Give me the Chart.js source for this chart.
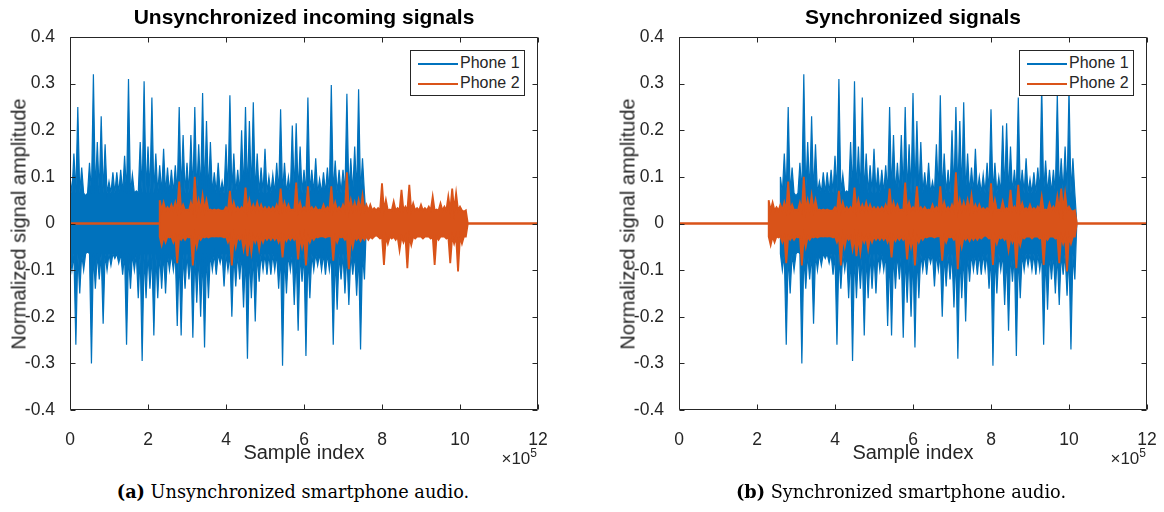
<!DOCTYPE html>
<html>
<head>
<meta charset="utf-8">
<script src="https://cdn.jsdelivr.net/npm/chart.js@4"></script>
<style>
  body { margin: 0; background: #fff; }
  #page { position: relative; width: 1164px; height: 512px; overflow: hidden; font-family: "Liberation Sans", Arial, sans-serif; color: #262626; }
  .panel { position: absolute; top: 0; width: 555px; height: 512px; }
  .panel canvas { position: absolute; left: 0; top: 0; }
  .title { position: absolute; left: 70px; width: 468px; top: 5px; text-align: center; font-weight: bold; font-size: 21px; color: #000; }
  .xlabel { position: absolute; left: 70px; width: 468px; top: 441px; text-align: center; font-size: 20px; }
  .ylabel { position: absolute; left: 19px; top: 224px; transform: translate(-50%, -50%) rotate(-90deg); white-space: nowrap; font-size: 20px; }
  .exp { position: absolute; right: 18px; top: 446px; font-size: 17px; }
  .exp sup { font-size: 12px; vertical-align: 7px; }
  .legend { position: absolute; left: 410px; top: 50px; width: 113px; height: 44px; background: #fff; border: 1px solid #262626; font-size: 16px; }
  .legend .row { position: absolute; left: 49px; height: 20px; line-height: 20px; }
  .legend .sw { position: absolute; left: 7px; width: 40px; height: 2px; }
  .caption { position: absolute; left: 0; width: 586px; top: 481px; text-align: center; font-family: "DejaVu Serif", serif; font-size: 17.7px; color: #000; }
</style>
</head>
<body>
<div id="page">
  <div class="panel" style="left:0px">
    <canvas id="rawChart" width="555" height="470"></canvas>
    <div class="title">Unsynchronized incoming signals</div>
    <div class="ylabel">Normalized signal amplitude</div>
    <div class="xlabel">Sample index</div>
    <div class="exp">×10<sup>5</sup></div>
    <div class="legend">
      <div class="sw" style="top:12px;background:#0072BD"></div><div class="row" style="top:2px">Phone 1</div>
      <div class="sw" style="top:32px;background:#D95319"></div><div class="row" style="top:22px">Phone 2</div>
    </div>
    <div class="caption"><b>(a)</b> Unsynchronized smartphone audio.</div>
  </div>
  <div class="panel" style="left:609px">
    <canvas id="syncChart" width="555" height="470"></canvas>
    <div class="title">Synchronized signals</div>
    <div class="ylabel">Normalized signal amplitude</div>
    <div class="xlabel">Sample index</div>
    <div class="exp">×10<sup>5</sup></div>
    <div class="legend">
      <div class="sw" style="top:12px;background:#0072BD"></div><div class="row" style="top:2px">Phone 1</div>
      <div class="sw" style="top:32px;background:#D95319"></div><div class="row" style="top:22px">Phone 2</div>
    </div>
    <div class="caption" style="left:-1px"><b>(b)</b> Synchronized smartphone audio.</div>
  </div>
</div>
<script>
// envelope of each recording, one bin every 0.1e5 samples:
// HI = positive peak at bin start, LO = negative peak half a bin later,
// CORE = level of the dense part between the peaks
const BIN = 0.1e5;
const X_MAX = 12e5;

const P1_START = 0;
const P1_LAG = 2.6e5;   // delay found by the sync step
const P1_CORE = 0.065;
const P1_HI = [
  0.10, 0.15, 0.25, 0.12, 0.06, 0.13, 0.32, 0.175, 0.23, 0.17,
  0.09, 0.11, 0.11, 0.115, 0.145, 0.31, 0.105, 0.07, 0.175, 0.305,
  0.165, 0.27, 0.15, 0.125, 0.16, 0.12, 0.115, 0.125, 0.25, 0.19,
  0.13, 0.19, 0.25, 0.17, 0.28, 0.22, 0.175, 0.11, 0.13, 0.09,
  0.17, 0.275, 0.15, 0.115, 0.20, 0.25, 0.22, 0.26, 0.15, 0.12,
  0.16, 0.10, 0.105, 0.13, 0.245, 0.13, 0.10, 0.21, 0.215, 0.165,
  0.115, 0.27, 0.115, 0.14, 0.095, 0.11, 0.12, 0.297, 0.135, 0.115,
  0.115, 0.278, 0.14, 0.165, 0.288, 0.14
];
const P1_LO = [
  -0.10, -0.26, -0.15, -0.10, -0.06, -0.30, -0.14, -0.12, -0.215, -0.10,
  -0.09, -0.075, -0.085, -0.11, -0.26, -0.14, -0.10, -0.16, -0.295, -0.16,
  -0.14, -0.24, -0.16, -0.14, -0.15, -0.10, -0.10, -0.22, -0.24, -0.14,
  -0.12, -0.245, -0.17, -0.20, -0.266, -0.16, -0.10, -0.11, -0.085, -0.135,
  -0.10, -0.20, -0.135, -0.12, -0.18, -0.29, -0.16, -0.21, -0.125, -0.10,
  -0.11, -0.11, -0.10, -0.14, -0.305, -0.15, -0.10, -0.175, -0.23, -0.125,
  -0.284, -0.16, -0.10, -0.09, -0.10, -0.11, -0.10, -0.26, -0.185, -0.12,
  -0.15, -0.175, -0.11, -0.155, -0.27, -0.12
];

const P2_START = 2.3e5;
const P2_CORE = 0.028;
const P2_HI = [
  0.05, 0.045, 0.035, 0.04, 0.045, 0.09, 0.04, 0.03, 0.045, 0.10,
  0.05, 0.06, 0.05, 0.03, 0.03, 0.03, 0.027, 0.035, 0.07, 0.045,
  0.035, 0.035, 0.077, 0.05, 0.04, 0.045, 0.04, 0.035, 0.035, 0.035,
  0.04, 0.075, 0.045, 0.04, 0.03, 0.088, 0.045, 0.035, 0.08, 0.035,
  0.035, 0.03, 0.04, 0.035, 0.08, 0.045, 0.035, 0.04, 0.11, 0.05,
  0.045, 0.05, 0.06, 0.04, 0.04, 0.033, 0.033, 0.086, 0.05, 0.03,
  0.047, 0.033, 0.072, 0.036, 0.083, 0.043, 0.033, 0.04, 0.033, 0.036,
  0.058, 0.03, 0.043, 0.036, 0.058, 0.075, 0.065, 0.036, 0.025
];
const P2_LO = [
  -0.046, -0.04, -0.03, -0.04, -0.085, -0.035, -0.035, -0.03, -0.09, -0.05,
  -0.035, -0.03, -0.03, -0.027, -0.027, -0.027, -0.03, -0.04, -0.09, -0.05,
  -0.035, -0.055, -0.07, -0.062, -0.04, -0.055, -0.04, -0.035, -0.035, -0.035,
  -0.04, -0.073, -0.037, -0.035, -0.035, -0.077, -0.05, -0.09, -0.04, -0.035,
  -0.03, -0.027, -0.03, -0.027, -0.08, -0.04, -0.03, -0.035, -0.098, -0.05,
  -0.035, -0.037, -0.035, -0.035, -0.032, -0.025, -0.032, -0.089, -0.043, -0.032,
  -0.035, -0.057, -0.04, -0.096, -0.046, -0.032, -0.028, -0.032, -0.028, -0.032,
  -0.089, -0.035, -0.028, -0.032, -0.085, -0.043, -0.103, -0.043, -0.028
];

const X_STEP = 2e5;
const Y_MIN = -0.4, Y_MAX = 0.4, Y_STEP = 0.1;

const BLUE = "#0072BD";
const ORANGE = "#D95319";
const AXIS = "#262626";

// one edge of the signal band: peaks at bin start (upper) or mid-bin (lower),
// the dense core level in between, flat zero outside the recording
function edge(peaks, core, start, upper) {
  const pts = [{ x: 0, y: 0 }];
  if (start > 0) pts.push({ x: start, y: 0 });
  peaks.forEach((p, k) => {
    const x0 = start + k * BIN, x1 = x0 + BIN / 2;
    if (upper) pts.push({ x: x0, y: p }, { x: x1, y: core });
    else pts.push({ x: x0, y: -core }, { x: x1, y: p });
  });
  pts.push({ x: start + peaks.length * BIN, y: 0 });
  pts.push({ x: X_MAX, y: 0 });
  return pts;
}

// MATLAB-style box with ticks pointing inwards
const boxAxes = {
  id: "boxAxes",
  afterDraw(chart) {
    const { ctx, chartArea: a, scales } = chart;
    const L = Math.round(a.left) + 0.5, R = Math.round(a.right) - 0.5;
    const T = Math.round(a.top) + 0.5, B = Math.round(a.bottom) - 0.5;
    ctx.save();
    ctx.strokeStyle = AXIS;
    ctx.lineWidth = 1;
    ctx.beginPath();
    ctx.rect(L, T, R - L, B - T);
    scales.x.ticks.forEach(t => {
      const px = Math.round(scales.x.getPixelForValue(t.value)) + 0.5;
      ctx.moveTo(px, B); ctx.lineTo(px, B - 5);
      ctx.moveTo(px, T); ctx.lineTo(px, T + 5);
    });
    scales.y.ticks.forEach(t => {
      const py = Math.round(scales.y.getPixelForValue(t.value)) + 0.5;
      ctx.moveTo(L, py); ctx.lineTo(L + 5, py);
      ctx.moveTo(R, py); ctx.lineTo(R - 5, py);
    });
    ctx.stroke();
    ctx.restore();
  }
};

function makeChart(id, p1Start) {
  return new Chart(document.getElementById(id), {
    type: "line",
    data: {
      datasets: [
        { label: "Phone 1", data: edge(P1_HI, P1_CORE, p1Start, true), borderColor: BLUE, backgroundColor: BLUE, borderWidth: 1.2, fill: "+1", order: 3 },
        { label: "Phone 1 low", data: edge(P1_LO, P1_CORE, p1Start, false), borderColor: BLUE, borderWidth: 1.2, fill: false, order: 2 },
        { label: "Phone 2", data: edge(P2_HI, P2_CORE, P2_START, true), borderColor: ORANGE, backgroundColor: ORANGE, borderWidth: 1.8, fill: "+1", order: 1 },
        { label: "Phone 2 low", data: edge(P2_LO, P2_CORE, P2_START, false), borderColor: ORANGE, borderWidth: 1.8, fill: false, order: 0 }
      ]
    },
    options: {
      responsive: false,
      animation: false,
      devicePixelRatio: 1,
      layout: { padding: { left: 0, right: 17, top: 37, bottom: 0 } },
      elements: {
        point: { radius: 0 },
        line: { tension: 0 }
      },
      plugins: { legend: { display: false }, tooltip: { enabled: false } },
      scales: {
        x: {
          type: "linear",
          min: 0, max: X_MAX,
          grid: { display: false },
          border: { display: false },
          ticks: {
            stepSize: X_STEP, padding: 12, color: AXIS, maxRotation: 0,
            font: { family: "Liberation Sans", size: 17.5 },
            callback: v => v / 1e5
          },
          afterFit: s => { s.height = 60; s.paddingLeft = 0; s.paddingRight = 0; }
        },
        y: {
          min: Y_MIN, max: Y_MAX,
          grid: { display: false },
          border: { display: false },
          ticks: {
            stepSize: Y_STEP, padding: 7, color: AXIS,
            font: { family: "Liberation Sans", size: 17.5 },
            callback: v => String(Math.round(v * 10) / 10)
          },
          afterFit: s => { s.width = 70; s.paddingTop = 0; s.paddingBottom = 0; }
        }
      }
    },
    plugins: [boxAxes]
  });
}

makeChart("rawChart", P1_START);
makeChart("syncChart", P1_START + P1_LAG);
</script>
</body>
</html>
